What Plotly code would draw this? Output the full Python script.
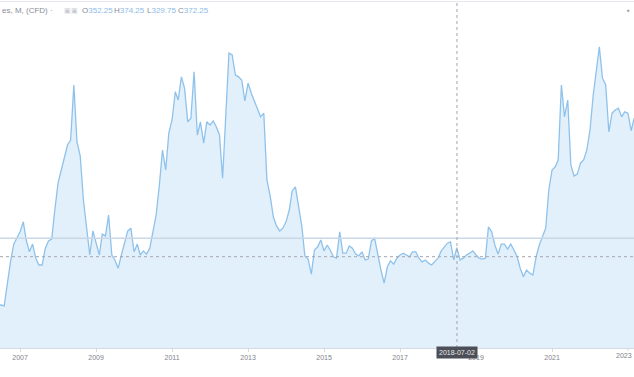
import plotly.graph_objects as go
import pandas as pd

# Monthly closes, Jun 2006 .. Mar 2023
start_month = "2006-06-01"
closes = [
    246, 246, 244, 297, 341, 380, 393,                      # 2006 Jun-Dec
    407, 429, 389, 363, 380, 349, 334, 334, 371, 387, 391, 455,  # 2007
    514, 543, 567, 598, 609, 730, 605, 574, 477, 422, 356, 409,  # 2008
    385, 356, 402, 398, 444, 356, 345, 327, 356, 385, 409, 415,  # 2009
    363, 380, 356, 365, 358, 371, 407, 444, 510, 587, 543, 624,  # 2010
    653, 715, 697, 748, 723, 649, 657, 759, 620, 649, 602, 649,  # 2011
    642, 651, 638, 620, 525, 664, 800, 796, 752, 748, 741, 695,  # 2012
    734, 712, 695, 677, 660, 668, 521, 486, 440, 420, 409, 415,  # 2013
    429, 455, 497, 506, 464, 420, 354, 347, 314, 367, 374, 389,  # 2014
    365, 378, 367, 352, 349, 407, 360, 360, 376, 371, 358, 354,  # 2015
    363, 345, 347, 387, 393, 354, 323, 294, 330, 343, 336, 349,  # 2016
    356, 360, 356, 352, 363, 363, 349, 341, 345, 338, 334, 341,  # 2017
    349, 365, 374, 382, 385, 345, 372, 345, 349, 356, 360, 365,  # 2018
    356, 349, 347, 349, 418, 407, 378, 358, 380, 380, 369, 380,  # 2019
    367, 352, 327, 308, 323, 316, 312, 352, 378, 398, 415, 499,  # 2020
    543, 550, 565, 730, 660, 697, 554, 530, 534, 558, 565, 587,  # 2021
    631, 708, 763, 814, 745, 730, 627, 668, 675, 679, 660, 671,  # 2022
    668, 629, 657,                                          # 2023 Jan-Mar
]
dates = pd.date_range(start_month, periods=len(closes), freq="MS")

legend_name = "es, M, (CFD)"
ohlc_labels = ["O", "H", "L", "C"]
ohlc_values = ["352.25", "374.25", "329.75", "372.25"]
cross_date = "2018-07-02"
cross_price = 352.25
price_line = 393
tick_years = ["2007", "2009", "2011", "2013", "2015", "2017", "2019", "2021"]
edge_year = "2023"

fig = go.Figure()
fig.add_trace(go.Scatter(
    x=dates, y=closes, mode="lines",
    line=dict(color="#8fc2eb", width=1.3),
    fill="tozeroy", fillcolor="#e2f0fb",
    hoverinfo="skip", showlegend=False,
))

PH = 348.0
def py(px):
    return (PH - px) / PH

shapes = [
    dict(type="line", xref="paper", yref="y", x0=0, x1=1, y0=price_line, y1=price_line,
         line=dict(color="#c9d7e6", width=1.5)),
    dict(type="line", xref="paper", yref="y", x0=0, x1=1, y0=cross_price, y1=cross_price,
         line=dict(color="#a3a6ae", width=1, dash="dot")),
    dict(type="line", xref="x", yref="paper", x0=cross_date, x1=cross_date, y0=0, y1=1,
         line=dict(color="#a3a6ae", width=1, dash="dot")),
    dict(type="line", xref="paper", yref="paper", x0=0, x1=1, y0=py(1.5), y1=py(1.5),
         line=dict(color="#e6e8ee", width=1)),
    dict(type="line", xref="x", yref="paper", x0=f"{edge_year}-01-01", x1=f"{edge_year}-01-01",
         y0=0, y1=py(351), line=dict(color="#d6d9e0", width=1)),
]

ann = []
font_f = "Liberation Sans, Arial, sans-serif"
ann.append(dict(xref="paper", yref="paper", x=0, y=py(10), xanchor="left", yanchor="middle",
                text=legend_name + " \u00b7", showarrow=False,
                font=dict(size=8, color="#8a8d96", family=font_f)))
ann.append(dict(xref="paper", yref="paper", x=62/634, y=py(10), xanchor="left", yanchor="middle",
                text="\u25a3\u25a3", showarrow=False,
                font=dict(size=7, color="#c8cbd2", family=font_f)))
xs = [80, 112, 145, 176]
for lab, val, x0 in zip(ohlc_labels, ohlc_values, xs):
    ann.append(dict(xref="paper", yref="paper", x=x0/634, y=py(10), xanchor="left", yanchor="middle",
                    text=f"<span style='color:#8a8d96'>{lab}</span>"
                         f"<span style='color:#8dbbe8'>{val}</span>",
                    showarrow=False, font=dict(size=8, family=font_f)))
ann.append(dict(xref="paper", yref="paper", x=628/634, y=py(10), xanchor="center", yanchor="middle",
                text="\u25aa", showarrow=False, font=dict(size=8, color="#9598a1", family=font_f)))
ann.append(dict(xref="paper", yref="paper", x=1, y=py(355), xanchor="right",
                yanchor="middle", text=edge_year, showarrow=False,
                font=dict(size=7, color="#80838c", family=font_f)))
ann.append(dict(xref="x", yref="paper", x=cross_date, y=py(352.5), xanchor="center", yanchor="middle",
                text=cross_date, showarrow=False, bgcolor="#4c4f58", borderpad=2,
                font=dict(size=7, color="#e8e8e8", family=font_f)))

fig.update_layout(
    width=634, height=377,
    margin=dict(l=0, r=0, t=0, b=29),
    paper_bgcolor="white", plot_bgcolor="white",
    shapes=shapes, annotations=ann,
    xaxis=dict(
        type="date", range=["2006-06-22", "2023-02-28"],
        tickmode="array",
        tickvals=[f"{y}-01-01" for y in tick_years], ticktext=tick_years,
        showgrid=False, zeroline=False,
        showline=True, linecolor="#d6d9e0", linewidth=1,
        ticks="outside", ticklen=3, tickcolor="#d6d9e0",
        tickfont=dict(size=7, color="#80838c", family=font_f),
    ),
    yaxis=dict(range=[151.4, 917], showgrid=False, zeroline=False,
               showticklabels=False, showline=False),
)

fig.write_html("out.html")
